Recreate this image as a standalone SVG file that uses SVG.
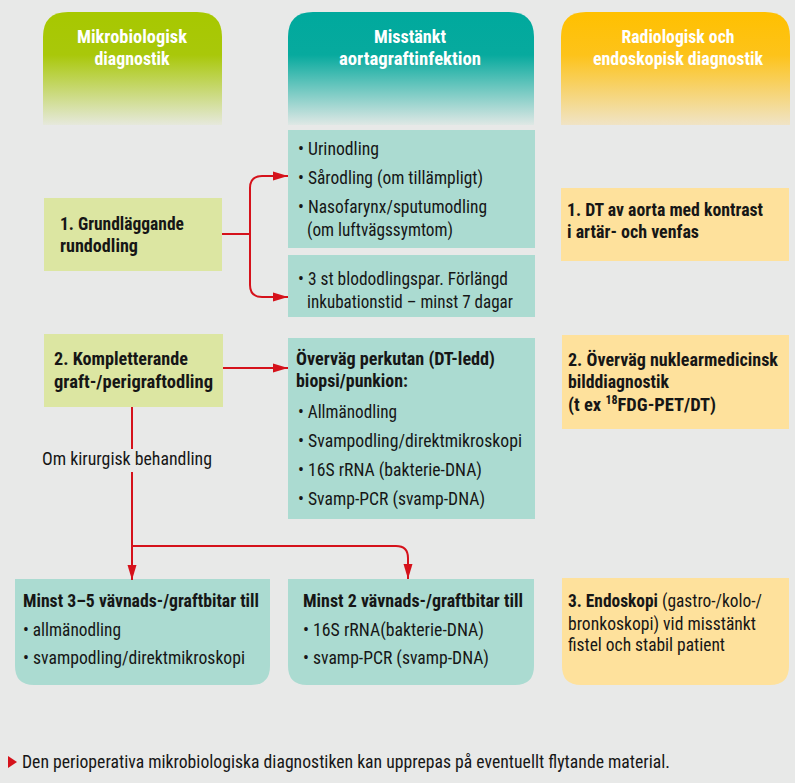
<svg xmlns="http://www.w3.org/2000/svg" width="795" height="783" viewBox="0 0 795 783">
<defs>
<style>
.t{font-family:"Roboto Condensed","Liberation Sans Narrow",Roboto,"Liberation Sans",sans-serif;font-size:18.5px;fill:#161616}
.b{font-weight:700}
.h{font-family:"Roboto Condensed","Liberation Sans Narrow",Roboto,"Liberation Sans",sans-serif;font-size:19px;font-weight:700;fill:#ffffff;text-anchor:middle}
.g{fill:#dce6a2}
.c{fill:#abdbd1}
.y{fill:#fee19c}
.ln{fill:none;stroke:#d5121b;stroke-width:2}
</style>
<linearGradient id="gG" x1="0" y1="0" x2="0" y2="1">
<stop offset="0" stop-color="#a7c800"/><stop offset="0.38" stop-color="#a9c80a"/><stop offset="1" stop-color="#e6e9dc"/>
</linearGradient>
<linearGradient id="gT" x1="0" y1="0" x2="0" y2="1">
<stop offset="0" stop-color="#00a99d"/><stop offset="0.38" stop-color="#07aa9e"/><stop offset="1" stop-color="#dfe8e5"/>
</linearGradient>
<linearGradient id="gY" x1="0" y1="0" x2="0" y2="1">
<stop offset="0" stop-color="#ffc000"/><stop offset="0.38" stop-color="#fdc31a"/><stop offset="1" stop-color="#f0e4c6"/>
</linearGradient>
<marker id="ah" markerWidth="15" markerHeight="10" refX="15" refY="5" orient="auto" markerUnits="userSpaceOnUse">
<path d="M0,0.5 L15,5 L0,9.5 z" fill="#d5121b"/>
</marker>
</defs>
<rect width="795" height="783" fill="#e8e9e8"/>

<g id="header-mikro">
<path d="M43,125 V37 Q43,12 68,12 H197 Q222,12 222,37 V125 z" fill="url(#gG)"/>
<text class="h" x="132" y="43" textLength="110" lengthAdjust="spacingAndGlyphs">Mikrobiologisk</text>
<text class="h" x="132" y="65" textLength="75" lengthAdjust="spacingAndGlyphs">diagnostik</text>
</g>
<g id="header-misstankt">
<path d="M288,125 V37 Q288,12 313,12 H509 Q534,12 534,37 V125 z" fill="url(#gT)"/>
<text class="h" x="410" y="43" textLength="72" lengthAdjust="spacingAndGlyphs">Misstänkt</text>
<text class="h" x="410" y="65" textLength="142" lengthAdjust="spacingAndGlyphs">aortagraftinfektion</text>
</g>
<g id="header-radio">
<path d="M561,125 V37 Q561,12 586,12 H765 Q790,12 790,37 V125 z" fill="url(#gY)"/>
<text class="h" x="678" y="43" textLength="113" lengthAdjust="spacingAndGlyphs">Radiologisk och</text>
<text class="h" x="678" y="65" textLength="170" lengthAdjust="spacingAndGlyphs">endoskopisk diagnostik</text>
</g>

<g id="grundlaggande">
<rect class="g" x="44" y="198" width="178" height="73"/>
<text class="t b" x="60" y="230" textLength="124" lengthAdjust="spacingAndGlyphs">1. Grundläggande</text>
<text class="t b" x="60" y="252" textLength="78" lengthAdjust="spacingAndGlyphs">rundodling</text>
</g>
<g id="odlingar">
<rect class="c" x="288" y="130" width="247" height="118"/>
<text class="t" x="298" y="155" textLength="81" lengthAdjust="spacingAndGlyphs">• Urinodling</text>
<text class="t" x="298" y="184" textLength="185" lengthAdjust="spacingAndGlyphs">• Sårodling (om tillämpligt)</text>
<text class="t" x="298" y="213" textLength="189" lengthAdjust="spacingAndGlyphs">• Nasofarynx/sputumodling</text>
<text class="t" x="307" y="236" textLength="146" lengthAdjust="spacingAndGlyphs">(om luftvägssymtom)</text>
</g>
<g id="blododling">
<rect class="c" x="288" y="255" width="247" height="62"/>
<text class="t" x="298" y="285" textLength="210" lengthAdjust="spacingAndGlyphs">• 3 st blododlingspar. Förlängd</text>
<text class="t" x="307" y="308" textLength="206" lengthAdjust="spacingAndGlyphs">inkubationstid – minst 7 dagar</text>
</g>
<g id="dt-aorta">
<rect class="y" x="561" y="188" width="228" height="73"/>
<text class="t b" x="567" y="216" textLength="196" lengthAdjust="spacingAndGlyphs">1. DT av aorta med kontrast</text>
<text class="t b" x="567" y="238" textLength="132" lengthAdjust="spacingAndGlyphs">i artär- och venfas</text>
</g>

<g id="kompletterande">
<rect class="g" x="44" y="334" width="179" height="73"/>
<text class="t b" x="54" y="365" textLength="134" lengthAdjust="spacingAndGlyphs">2. Kompletterande</text>
<text class="t b" x="54" y="388" textLength="159" lengthAdjust="spacingAndGlyphs">graft-/perigraftodling</text>
</g>
<g id="biopsi">
<rect class="c" x="288" y="338" width="247" height="181"/>
<text class="t b" x="296" y="365" textLength="199" lengthAdjust="spacingAndGlyphs">Överväg perkutan (DT-ledd)</text>
<text class="t b" x="296" y="387" textLength="112" lengthAdjust="spacingAndGlyphs">biopsi/punkion:</text>
<text class="t" x="298" y="418" textLength="99" lengthAdjust="spacingAndGlyphs">• Allmänodling</text>
<text class="t" x="298" y="447" textLength="224" lengthAdjust="spacingAndGlyphs">• Svampodling/direktmikroskopi</text>
<text class="t" x="298" y="476" textLength="184" lengthAdjust="spacingAndGlyphs">• 16S rRNA (bakterie-DNA)</text>
<text class="t" x="298" y="505" textLength="187" lengthAdjust="spacingAndGlyphs">• Svamp-PCR (svamp-DNA)</text>
</g>
<g id="nuklear">
<rect class="y" x="562" y="335" width="227" height="94"/>
<text class="t b" x="568" y="366" textLength="210" lengthAdjust="spacingAndGlyphs">2. Överväg nuklearmedicinsk</text>
<text class="t b" x="568" y="388" textLength="101" lengthAdjust="spacingAndGlyphs">bilddiagnostik</text>
<text class="t b" x="568" y="411">(t ex <tspan font-size="12" dy="-7">18</tspan><tspan dy="7">FDG-PET/DT)</tspan></text>
</g>

<g id="label-kirurgi">
<text class="t" x="42" y="465" textLength="170" lengthAdjust="spacingAndGlyphs">Om kirurgisk behandling</text>
</g>

<g id="vavnad-3-5">
<path class="c" d="M15,579 H270 V666 Q270,685 251,685 H34 Q15,685 15,666 z"/>
<text class="t b" x="23" y="607" textLength="236" lengthAdjust="spacingAndGlyphs">Minst 3–5 vävnads-/graftbitar till</text>
<text class="t" x="23" y="636" textLength="98" lengthAdjust="spacingAndGlyphs">• allmänodling</text>
<text class="t" x="23" y="664" textLength="222" lengthAdjust="spacingAndGlyphs">• svampodling/direktmikroskopi</text>
</g>
<g id="vavnad-2">
<path class="c" d="M288,579 H534 V666 Q534,685 515,685 H307 Q288,685 288,666 z"/>
<text class="t b" x="303" y="607" textLength="220" lengthAdjust="spacingAndGlyphs">Minst 2 vävnads-/graftbitar till</text>
<text class="t" x="303" y="636" textLength="181" lengthAdjust="spacingAndGlyphs">• 16S rRNA(bakterie-DNA)</text>
<text class="t" x="303" y="664" textLength="186" lengthAdjust="spacingAndGlyphs">• svamp-PCR (svamp-DNA)</text>
</g>
<g id="endoskopi">
<path class="y" d="M562,578 H789 V666 Q789,685 770,685 H581 Q562,685 562,666 z"/>
<text class="t" x="568" y="607" textLength="194" lengthAdjust="spacingAndGlyphs"><tspan class="b">3. Endoskopi</tspan> (gastro-/kolo-/</text>
<text class="t" x="568" y="630" textLength="188" lengthAdjust="spacingAndGlyphs">bronkoskopi) vid misstänkt</text>
<text class="t" x="568" y="651" textLength="157" lengthAdjust="spacingAndGlyphs">fistel och stabil patient</text>
</g>

<g id="connectors">
<path class="ln" d="M222,234 H250"/>
<path class="ln" d="M250,234 V188 Q250,176 262,176 H288" marker-end="url(#ah)"/>
<path class="ln" d="M250,234 V285 Q250,297 262,297 H288" marker-end="url(#ah)"/>
<path class="ln" d="M223,368 H288" marker-end="url(#ah)"/>
<path class="ln" d="M132,407 V449"/>
<path class="ln" d="M132,472 V580" marker-end="url(#ah)"/>
<path class="ln" d="M132,546 H396 Q408,546 408,558 V579" marker-end="url(#ah)"/>
</g>

<g id="footer">
<path d="M8,756 L17,762 L8,768 z" fill="#d5121b"/>
<text class="t" x="22" y="768" font-size="17" textLength="648" lengthAdjust="spacingAndGlyphs">Den perioperativa mikrobiologiska diagnostiken kan upprepas på eventuellt flytande material.</text>
</g>
</svg>
